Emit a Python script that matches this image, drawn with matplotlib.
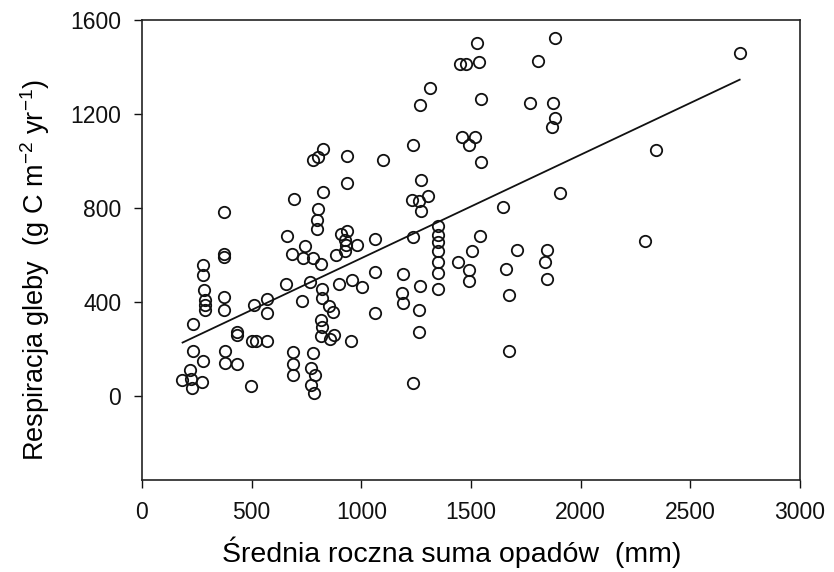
import matplotlib
matplotlib.use("Agg")
import matplotlib.pyplot as plt
import numpy as np

plt.rcParams['font.family'] = ['Liberation Sans', 'DejaVu Sans']

# Annual precipitation (mm)
precip = [181, 219, 225, 227, 272, 234, 234, 280, 278, 278, 282, 285, 287, 287,
          372, 372, 372, 372, 372, 380, 378, 434, 434, 434, 496, 500, 518, 570,
          510, 568, 570, 657, 660, 683, 695, 687, 687, 687, 728, 743, 736, 781,
          815, 766, 781, 772, 789, 772, 786, 778, 801, 827, 933, 933, 827, 804,
          797, 797, 820, 820, 852, 872, 815, 820, 815, 855, 876, 953, 885, 926,
          907, 936, 926, 930, 979, 900, 958, 1002, 1062, 1062, 1062, 1098, 1192,
          1184, 1191, 1234, 1237, 1235, 1233, 1262, 1270, 1270, 1305, 1268, 1313,
          1268, 1262, 1262, 1350, 1348, 1348, 1348, 1348, 1348, 1348, 1442, 1492,
          1492, 1503, 1543, 1460, 1520, 1490, 1545, 1448, 1477, 1537, 1528, 1545,
          1648, 1660, 1673, 1675, 1708, 1769, 1804, 1882, 1873, 1882, 1870, 1906,
          1848, 1839, 1848, 2295, 2345, 2725]
# Soil respiration (g C m-2 yr-1)
resp = [66, 111, 72, 32, 61, 189, 308, 149, 558, 515, 451, 409, 388, 366,
        781, 606, 592, 419, 366, 189, 142, 272, 258, 134, 40, 234, 234, 234,
        388, 412, 352, 475, 681, 603, 836, 185, 136, 91, 402, 636, 586, 586,
        561, 483, 182, 118, 89, 47, 12, 1002, 1017, 1051, 1019, 908, 866, 796,
        747, 711, 454, 416, 382, 359, 324, 295, 256, 244, 260, 235, 600, 615,
        690, 700, 664, 643, 643, 475, 494, 463, 667, 529, 352, 1002, 520,
        439, 396, 1069, 675, 56, 835, 828, 785, 921, 849, 1237, 1311,
        468, 366, 272, 724, 684, 655, 615, 570, 521, 455, 568, 537,
        490, 615, 681, 1100, 1100, 1066, 996, 1413, 1413, 1420, 1502, 1265,
        806, 542, 428, 193, 622, 1245, 1427, 1525, 1245, 1182, 1143, 865,
        622, 569, 498, 661, 1048, 1460]

# Regression line end points
fit_x = [185, 2725]
fit_y = [227, 1346]

x_ticks = [0, 500, 1000, 1500, 2000, 2500, 3000]
y_ticks = [0, 400, 800, 1200, 1600]

fig = plt.figure(figsize=(8.34, 5.72), dpi=100)
ax = fig.add_axes([142/834, 1-480/572, 658/834, 460/572])

ax.plot(precip, resp, linestyle='none', marker='o', markersize=8.2,
        markerfacecolor='none', markeredgecolor='#111111', markeredgewidth=1.3)
ax.plot(fit_x, fit_y, color='#111111', linewidth=1.3)

ax.set_xlim(0, 3000)
ax.set_ylim(-358, 1600)
ax.set_xticks(x_ticks)
ax.set_yticks(y_ticks)
ax.tick_params(direction='out', length=6, width=1.0, labelsize=16.5, pad=9,
               colors='#111111')
for s in ax.spines.values():
    s.set_linewidth(1.2)
    s.set_color('#222222')

ax.set_xlabel('Średnia roczna suma opadów  (mm)', fontsize=20.5)
ax.set_ylabel('Respiracja gleby  (g C m$^{\\mathregular{-2}}$ yr$^{\\mathregular{-1}}$)',
              fontsize=19.5)
ax.xaxis.set_label_coords(0.471, -0.122)
ax.yaxis.set_label_coords(-0.137, 0.457)

fig.savefig('out.png', dpi=100)
